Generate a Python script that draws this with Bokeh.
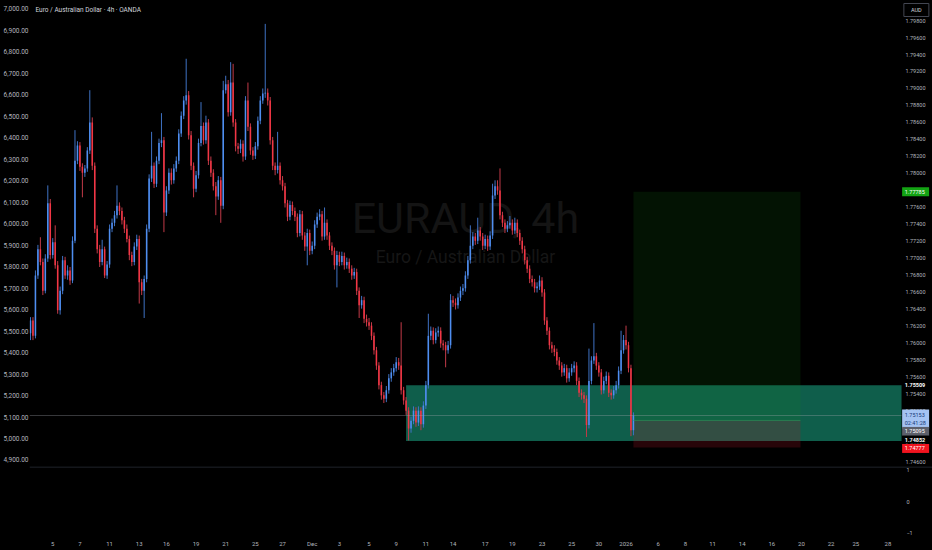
from bokeh.plotting import figure
from bokeh.models import ColumnDataSource, LinearAxis, Range1d, FixedTicker, NumeralTickFormatter, Label, Span
from bokeh.layouts import column
from bokeh.core.properties import value
from bokeh.embed import file_html
from bokeh.resources import INLINE

# ---------------- data (EURAUD 4h) ----------------
first_open = 1.7612
closes = [
    1.7627, 1.7609, 1.7680, 1.7711, 1.7696, 1.7662, 1.7700, 1.7765, 1.7704, 1.7719,
    1.7692, 1.7639, 1.7662, 1.7698, 1.7680, 1.7686, 1.7674, 1.7721, 1.7815, 1.7833,
    1.7808, 1.7801, 1.7806, 1.7827, 1.7860, 1.7809, 1.7735, 1.7711, 1.7696, 1.7711,
    1.7680, 1.7693, 1.7735, 1.7742, 1.7751, 1.7762, 1.7756, 1.7745, 1.7735, 1.7723,
    1.7704, 1.7696, 1.7714, 1.7723, 1.7672, 1.7662, 1.7676, 1.7735, 1.7794, 1.7809,
    1.7788, 1.7815, 1.7836, 1.7839, 1.7754, 1.7780, 1.7801, 1.7792, 1.7806, 1.7815,
    1.7847, 1.7868, 1.7886, 1.7892, 1.7845, 1.7809, 1.7782, 1.7798, 1.7836, 1.7856,
    1.7839, 1.7860, 1.7815, 1.7801, 1.7785, 1.7773, 1.7792, 1.7762, 1.7898, 1.7905,
    1.7872, 1.7907, 1.7860, 1.7832, 1.7829, 1.7835, 1.7820, 1.7886, 1.7855, 1.7827,
    1.7821, 1.7832, 1.7862, 1.7886, 1.7894, 1.7895, 1.7886, 1.7839, 1.7809, 1.7804,
    1.7809, 1.7792, 1.7785, 1.7765, 1.7749, 1.7763, 1.7756, 1.7749, 1.7730, 1.7752,
    1.7727, 1.7714, 1.7730, 1.7709, 1.7715, 1.7740, 1.7749, 1.7752, 1.7726, 1.7742,
    1.7727, 1.7715, 1.7709, 1.7692, 1.7704, 1.7696, 1.7703, 1.7692, 1.7696, 1.7688,
    1.7680, 1.7684, 1.7662, 1.7645, 1.7651, 1.7629, 1.7625, 1.7621, 1.7609, 1.7592,
    1.7574, 1.7551, 1.7539, 1.7535, 1.7545, 1.7559, 1.7566, 1.7571, 1.7578, 1.7574,
    1.7545, 1.7533, 1.7521, 1.7500, 1.7509, 1.7521, 1.7507, 1.7521, 1.7505, 1.7527,
    1.7551, 1.7609, 1.7615, 1.7604, 1.7613, 1.7615, 1.7600, 1.7598, 1.7592, 1.7598,
    1.7651, 1.7648, 1.7645, 1.7654, 1.7662, 1.7665, 1.7680, 1.7698, 1.7715, 1.7726,
    1.7721, 1.7733, 1.7726, 1.7715, 1.7723, 1.7714, 1.7727, 1.7774, 1.7785, 1.7780,
    1.7751, 1.7742, 1.7735, 1.7739, 1.7742, 1.7733, 1.7742, 1.7730, 1.7721, 1.7711,
    1.7698, 1.7688, 1.7676, 1.7672, 1.7665, 1.7667, 1.7674, 1.7660, 1.7627, 1.7615,
    1.7598, 1.7594, 1.7590, 1.7580, 1.7574, 1.7566, 1.7571, 1.7559, 1.7566, 1.7571,
    1.7574, 1.7556, 1.7542, 1.7539, 1.7535, 1.7504, 1.7556, 1.7580, 1.7585, 1.7574,
    1.7566, 1.7545, 1.7556, 1.7562, 1.7542, 1.7539, 1.7545, 1.7551, 1.7568, 1.7592,
    1.7604, 1.7598, 1.7571, 1.7498, 1.75153,
]
highs = [
    1.7631, 1.7631, 1.7686, 1.7716, 1.7725, 1.7700, 1.7705, 1.7786, 1.7770, 1.7724,
    1.7739, 1.7697, 1.7667, 1.7703, 1.7702, 1.7692, 1.7690, 1.7726, 1.7851, 1.7838,
    1.7837, 1.7812, 1.7810, 1.7831, 1.7898, 1.7866, 1.7813, 1.7739, 1.7716, 1.7722,
    1.7714, 1.7697, 1.7740, 1.7747, 1.7756, 1.7786, 1.7766, 1.7760, 1.7749, 1.7740,
    1.7727, 1.7708, 1.7719, 1.7728, 1.7727, 1.7676, 1.7680, 1.7740, 1.7799, 1.7849,
    1.7813, 1.7820, 1.7841, 1.7871, 1.7843, 1.7785, 1.7806, 1.7806, 1.7811, 1.7820,
    1.7852, 1.7873, 1.7891, 1.7935, 1.7897, 1.7850, 1.7813, 1.7803, 1.7841, 1.7884,
    1.7860, 1.7868, 1.7864, 1.7820, 1.7805, 1.7790, 1.7797, 1.7796, 1.7909, 1.7915,
    1.7910, 1.7931, 1.7929, 1.7864, 1.7836, 1.7840, 1.7839, 1.7891, 1.7907, 1.7859,
    1.7831, 1.7837, 1.7867, 1.7891, 1.7900, 1.7976, 1.7900, 1.7890, 1.7843, 1.7813,
    1.7849, 1.7813, 1.7797, 1.7789, 1.7769, 1.7768, 1.7767, 1.7760, 1.7753, 1.7757,
    1.7756, 1.7731, 1.7735, 1.7734, 1.7720, 1.7745, 1.7754, 1.7758, 1.7756, 1.7760,
    1.7746, 1.7731, 1.7719, 1.7713, 1.7709, 1.7708, 1.7708, 1.7707, 1.7701, 1.7700,
    1.7692, 1.7689, 1.7688, 1.7666, 1.7656, 1.7655, 1.7634, 1.7630, 1.7625, 1.7613,
    1.7596, 1.7578, 1.7555, 1.7543, 1.7550, 1.7564, 1.7571, 1.7576, 1.7584, 1.7583,
    1.7625, 1.7549, 1.7537, 1.7525, 1.7514, 1.7526, 1.7525, 1.7526, 1.7525, 1.7532,
    1.7556, 1.7635, 1.7620, 1.7619, 1.7618, 1.7620, 1.7619, 1.7604, 1.7602, 1.7603,
    1.7658, 1.7656, 1.7653, 1.7659, 1.7667, 1.7670, 1.7685, 1.7703, 1.7739, 1.7731,
    1.7730, 1.7748, 1.7737, 1.7730, 1.7728, 1.7727, 1.7732, 1.7788, 1.7792, 1.7792,
    1.7806, 1.7755, 1.7746, 1.7744, 1.7750, 1.7746, 1.7748, 1.7746, 1.7734, 1.7725,
    1.7715, 1.7702, 1.7692, 1.7680, 1.7676, 1.7672, 1.7680, 1.7678, 1.7664, 1.7631,
    1.7619, 1.7602, 1.7598, 1.7594, 1.7584, 1.7578, 1.7576, 1.7575, 1.7571, 1.7576,
    1.7579, 1.7578, 1.7560, 1.7546, 1.7543, 1.7539, 1.7594, 1.7585, 1.7624, 1.7589,
    1.7578, 1.7570, 1.7561, 1.7567, 1.7566, 1.7546, 1.7550, 1.7556, 1.7573, 1.7615,
    1.7610, 1.7621, 1.7602, 1.7575, 1.7519,
]
lows = [
    1.7604, 1.7604, 1.7606, 1.7676, 1.7692, 1.7657, 1.7659, 1.7696, 1.7699, 1.7700,
    1.7688, 1.7635, 1.7634, 1.7658, 1.7676, 1.7675, 1.7669, 1.7671, 1.7718, 1.7811,
    1.7803, 1.7772, 1.7796, 1.7802, 1.7823, 1.7804, 1.7730, 1.7706, 1.7690, 1.7692,
    1.7677, 1.7676, 1.7689, 1.7731, 1.7738, 1.7747, 1.7751, 1.7740, 1.7730, 1.7719,
    1.7698, 1.7691, 1.7692, 1.7710, 1.7647, 1.7657, 1.7630, 1.7672, 1.7731, 1.7790,
    1.7783, 1.7784, 1.7811, 1.7831, 1.7731, 1.7750, 1.7776, 1.7787, 1.7788, 1.7802,
    1.7811, 1.7843, 1.7864, 1.7881, 1.7840, 1.7804, 1.7772, 1.7778, 1.7794, 1.7832,
    1.7834, 1.7835, 1.7810, 1.7796, 1.7780, 1.7751, 1.7769, 1.7742, 1.7758, 1.7894,
    1.7867, 1.7868, 1.7855, 1.7826, 1.7823, 1.7824, 1.7814, 1.7816, 1.7850, 1.7822,
    1.7816, 1.7817, 1.7828, 1.7858, 1.7882, 1.7889, 1.7880, 1.7834, 1.7804, 1.7798,
    1.7800, 1.7787, 1.7780, 1.7760, 1.7744, 1.7745, 1.7751, 1.7744, 1.7725, 1.7726,
    1.7722, 1.7709, 1.7692, 1.7704, 1.7705, 1.7711, 1.7736, 1.7745, 1.7721, 1.7722,
    1.7722, 1.7710, 1.7704, 1.7687, 1.7666, 1.7691, 1.7692, 1.7687, 1.7688, 1.7683,
    1.7675, 1.7676, 1.7657, 1.7630, 1.7641, 1.7624, 1.7620, 1.7616, 1.7604, 1.7587,
    1.7569, 1.7546, 1.7534, 1.7530, 1.7531, 1.7541, 1.7555, 1.7562, 1.7567, 1.7569,
    1.7540, 1.7528, 1.7516, 1.7486, 1.7495, 1.7505, 1.7502, 1.7503, 1.7498, 1.7501,
    1.7523, 1.7547, 1.7604, 1.7599, 1.7600, 1.7608, 1.7595, 1.7592, 1.7572, 1.7588,
    1.7594, 1.7643, 1.7640, 1.7641, 1.7650, 1.7657, 1.7661, 1.7676, 1.7694, 1.7711,
    1.7716, 1.7717, 1.7721, 1.7710, 1.7711, 1.7709, 1.7710, 1.7723, 1.7770, 1.7775,
    1.7746, 1.7737, 1.7730, 1.7731, 1.7735, 1.7728, 1.7729, 1.7725, 1.7716, 1.7706,
    1.7693, 1.7683, 1.7671, 1.7667, 1.7660, 1.7660, 1.7663, 1.7655, 1.7622, 1.7610,
    1.7593, 1.7589, 1.7585, 1.7575, 1.7569, 1.7561, 1.7562, 1.7554, 1.7555, 1.7562,
    1.7566, 1.7551, 1.7537, 1.7534, 1.7530, 1.7490, 1.7500, 1.7552, 1.7576, 1.7569,
    1.7561, 1.7540, 1.7541, 1.7552, 1.7537, 1.7534, 1.7535, 1.7541, 1.7547, 1.7564,
    1.7588, 1.7593, 1.7566, 1.7491, 1.7492,
]

# demand zone (rectangle drawing) and long-position tool
zone_left, zone_right = 152.0, 352.5
zone_top, zone_bottom = 1.75509, 1.74852
pos_left, pos_right = 244.0, 311.6
pos_entry, pos_target, pos_stop = 1.75095, 1.77785, 1.74777
last_price = 1.75153
countdown = "02:41:28"
symbol_ccy = "AUD"

price_ticks = [1.746, 1.748, 1.750, 1.752, 1.754, 1.756, 1.758, 1.760, 1.762, 1.764,
               1.766, 1.768, 1.770, 1.772, 1.774, 1.776, 1.778, 1.780, 1.782, 1.784,
               1.786, 1.788, 1.790, 1.792, 1.794, 1.796, 1.798]
left_ticks = [4900, 5000, 5100, 5200, 5300, 5400, 5500, 5600, 5700, 5800, 5900,
              6000, 6100, 6200, 6300, 6400, 6500, 6600, 6700, 6800, 6900, 7000]
date_tick_pos = [9, 20, 32, 44, 55, 67, 79, 91, 102, 114, 125, 137, 148, 160, 171,
                 184, 195, 207, 219, 230, 241, 254, 265, 276, 288, 300, 312, 324, 334, 347]
date_tick_labels = ["5", "7", "11", "13", "16", "19", "21", "25", "27", "Dec", "3", "5", "9",
                    "11", "14", "17", "19", "23", "25", "30", "2026", "6", "8", "11", "14",
                    "16", "20", "22", "25", "28"]
pane_ticks = [1, 0, -1]
pane_labels = ["1", "0", "\u22121"]

# ---------------- styling ----------------
BG = "#000000"
UP_BODY, DN_BODY = "#4f8ef0", "#f23645"
UP_WICK, DN_WICK = "#3f72c4", "#c23a48"
AX_COLOR = "#b2b5be"
FONT = "Roboto"
Y0, Y1 = 1.745529, 1.800353
PX = (Y1 - Y0) / 466          # price per screen pixel in the main pane
SCALE_X = 354.1               # x (bar index) where right-scale texts start
TAG_CX = 358.2                # centre of right-scale tag boxes

opens = [first_open] + closes[:-1]
N = len(closes)
is_up = [c >= o for o, c in zip(opens, closes)]
src = ColumnDataSource(dict(
    x=list(range(N)), high=highs, low=lows,
    top=[max(o, c) for o, c in zip(opens, closes)],
    bottom=[min(o, c) for o, c in zip(opens, closes)],
    body=[UP_BODY if u else DN_BODY for u in is_up],
    wick=[UP_WICK if u else DN_WICK for u in is_up],
))

x_range = Range1d(-0.405, 365.03)


def style_axis(ax, standoff, size):
    ax.axis_line_color = None
    ax.major_tick_line_color = None
    ax.minor_tick_line_color = None
    ax.major_tick_out = 0
    ax.major_tick_in = 0
    ax.major_label_text_font = FONT
    ax.major_label_text_font_size = size
    ax.major_label_text_color = AX_COLOR
    ax.major_label_standoff = standoff


def scale_text(fig, xs, ys, texts, color, size="5.5px", bold=False):
    fig.text(x=xs, y=ys, text=texts, text_font=value(FONT), text_font_size=value(size),
             text_color=color, text_align="left", text_baseline="middle",
             text_font_style="bold" if bold else "normal")


p1 = figure(width=932, height=466, output_backend="svg", toolbar_location=None,
            x_range=x_range, y_range=Range1d(Y0, Y1),
            x_axis_location=None, y_axis_location=None,
            min_border_left=29, min_border_right=0, min_border_top=0, min_border_bottom=0,
            background_fill_color=BG, border_fill_color=BG, outline_line_color=None)
p1.grid.visible = False

p1.extra_y_ranges = {"left": Range1d(4869.6, 7039.1)}
ax_l = LinearAxis(y_range_name="left", ticker=FixedTicker(ticks=left_ticks),
                  formatter=NumeralTickFormatter(format="0,0.00"))
style_axis(ax_l, 1, "6.5px")
p1.add_layout(ax_l, "left")

# watermark
p1.add_layout(Label(x=176, y=1.77471, text="EURAUD, 4h", text_font=FONT, text_font_size="43px",
                    text_color="#141414", text_align="center", text_baseline="middle", level="underlay"))
p1.add_layout(Label(x=176, y=1.77012, text="Euro / Australian Dollar", text_font=FONT,
                    text_font_size="17.5px", text_color="#161616", text_align="center",
                    text_baseline="middle", level="underlay"))

# demand zone
p1.quad(left=[zone_left], right=[zone_right], top=[zone_top], bottom=[zone_bottom],
        fill_color="#0f5e4b", line_color=None)
# long position: target and stop areas
p1.quad(left=[pos_left], right=[pos_right], top=[pos_target], bottom=[pos_entry],
        fill_color="#149614", fill_alpha=0.13, line_color=None)
p1.quad(left=[pos_left], right=[pos_right], top=[pos_entry], bottom=[pos_stop],
        fill_color="#b4192a", fill_alpha=0.22, line_color=None)

# candles
p1.segment(x0="x", y0="high", x1="x", y1="low", line_color="wick", line_width=1, source=src)
p1.vbar(x="x", width=0.62, top="top", bottom="bottom", fill_color="body", line_color=None, source=src)

p1.segment(x0=[pos_left], y0=[pos_entry], x1=[pos_right], y1=[pos_entry],
           line_color="#2e8b57", line_alpha=0.7, line_width=1)
# current price line
p1.segment(x0=[-0.405], y0=[last_price], x1=[zone_right], y1=[last_price],
           line_color="#a0a3ab", line_alpha=0.35, line_width=1)

# title
p1.add_layout(Label(x=2.0, y=1.79929, text="Euro / Australian Dollar \u00b7 4h \u00b7 OANDA",
                    text_font=FONT, text_font_size="6.5px", text_color="#d1d4dc",
                    text_align="left", text_baseline="middle"))

# right price scale
scale_text(p1, [SCALE_X] * len(price_ticks), price_ticks,
           [f"{t:.5f}" for t in price_ticks], AX_COLOR)

# price tags on the scale (boxes then texts)
tag_y = [pos_target, last_price - 3.5 * PX, pos_entry - 11 * PX, pos_stop - 1 * PX]
tag_h = [9, 19, 9, 9]
tag_bg = ["#13a313", "#a5c3f2", "#5d606b", "#f2141f"]
p1.rect(x=[TAG_CX] * 4, y=tag_y, width=27, height=tag_h, width_units="screen",
        height_units="screen", fill_color=tag_bg, line_color=None)
# plain bold labels of the zone edges (black backing)
p1.rect(x=[TAG_CX] * 2, y=[zone_top, zone_bottom + 1.5 * PX], width=27, height=8,
        width_units="screen", height_units="screen", fill_color=BG, line_color=None)
scale_text(p1, [SCALE_X - 0.3] * 2, [zone_top, zone_bottom + 1.5 * PX],
           [f"{zone_top:.5f}", f"{zone_bottom:.5f}"], "#ffffff", bold=True)
scale_text(p1, [SCALE_X - 0.3] * 3, [pos_target, pos_entry - 11 * PX, pos_stop - 1 * PX],
           [f"{pos_target:.5f}", f"{pos_entry:.5f}", f"{pos_stop:.5f}"], "#ffffff")
scale_text(p1, [SCALE_X - 0.3] * 2, [last_price + 0.5 * PX, last_price - 8 * PX],
           [f"{last_price:.5f}", countdown], "#173a78")
# currency box
p1.rect(x=[TAG_CX + 0.3], y=[Y1 - 9.5 * PX], width=25, height=13, width_units="screen",
        height_units="screen", fill_color=BG, line_color="#434651", line_width=1)
p1.text(x=[TAG_CX + 0.3], y=[Y1 - 9.5 * PX], text=[symbol_ccy], text_font=value(FONT),
        text_font_size=value("5.5px"), text_color="#d1d4dc", text_align="center",
        text_baseline="middle")

# lower (empty indicator) pane; its top edge carries the pane separator
p2 = figure(width=932, height=84, output_backend="svg", toolbar_location=None,
            x_range=x_range, y_range=Range1d(-1.129, 1.129),
            y_axis_location=None,
            min_border_left=29, min_border_right=0, min_border_top=0, min_border_bottom=14,
            background_fill_color=BG, border_fill_color=BG, outline_line_color=None)
p2.grid.visible = False
p2.add_layout(Span(location=1.113, dimension="width", line_color="#2a2e39", line_width=1))
scale_text(p2, [SCALE_X + 0.4] * 3, pane_ticks, pane_labels, AX_COLOR)
ax_x = p2.xaxis[0]
ax_x.ticker = FixedTicker(ticks=date_tick_pos)
ax_x.major_label_overrides = {pos: lab for pos, lab in zip(date_tick_pos, date_tick_labels)}
style_axis(ax_x, 3, "6px")

layout = column(p1, p2, spacing=0, styles={"background-color": BG})

open("out.html", "w").write(file_html(layout, INLINE))
